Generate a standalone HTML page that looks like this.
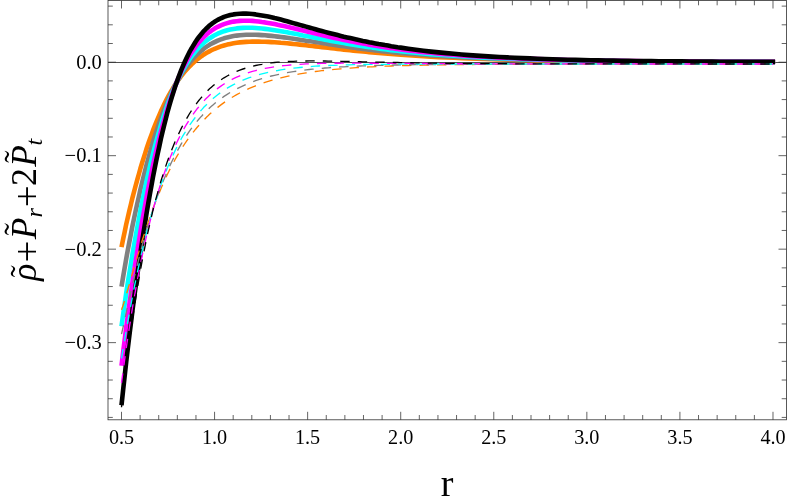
<!DOCTYPE html>
<html><head><meta charset="utf-8"><title>plot</title>
<style>
html,body{margin:0;padding:0;background:#fff;}
svg{display:block;will-change:transform;font-family:"Liberation Serif",serif;}
</style></head>
<body>
<svg width="789" height="504" viewBox="0 0 789 504">
<rect width="789" height="504" fill="#fff"/>
<g fill="none" stroke-linecap="butt" stroke-linejoin="round">
<path d="M108.0,62.5H786.5" stroke="#303030" stroke-width="0.85"/>
<path d="M121.5,247.1L123.1,239.2L124.7,231.7L126.2,224.4L127.8,217.4L129.4,210.6L131.0,204.0L132.5,197.6L134.1,191.5L135.7,185.5L137.3,179.7L138.9,174.0L140.4,168.5L142.0,163.2L143.6,158.1L145.2,153.1L146.7,148.3L148.3,143.6L149.9,139.0L151.5,134.7L153.0,130.4L154.6,126.3L156.2,122.4L157.8,118.5L159.4,114.8L160.9,111.3L162.5,107.9L164.1,104.6L165.7,101.4L167.2,98.3L168.8,95.4L170.4,92.5L172.0,89.8L173.6,87.2L175.1,84.7L176.7,82.3L178.3,80.0L179.9,77.8L181.4,75.7L183.0,73.7L184.6,71.8L186.2,70.0L187.8,68.2L189.3,66.6L190.9,65.0L192.5,63.4L194.1,62.0L195.6,60.6L197.2,59.3L198.8,58.1L200.4,56.9L202.0,55.8L203.5,54.7L205.1,53.7L206.7,52.8L208.3,51.9L209.8,51.1L211.4,50.3L213.0,49.5L214.6,48.8L217.7,47.6L220.9,46.4L224.0,45.5L227.2,44.6L230.3,43.9L233.5,43.3L236.7,42.8L239.8,42.4L243.0,42.1L246.1,41.9L249.3,41.7L252.4,41.6L255.6,41.6L258.7,41.6L261.9,41.7L265.0,41.8L268.2,41.9L271.4,42.1L274.5,42.3L277.7,42.5L280.8,42.8L284.0,43.0L287.1,43.3L290.3,43.6L293.4,44.0L296.6,44.3L299.8,44.6L302.9,45.0L306.1,45.3L309.2,45.7L312.4,46.0L315.5,46.4L318.7,46.8L321.8,47.1L325.0,47.5L328.1,47.8L331.3,48.2L334.5,48.5L337.6,48.9L340.8,49.2L343.9,49.6L347.1,49.9L350.2,50.2L353.4,50.6L356.5,50.9L359.7,51.2L362.9,51.5L366.0,51.8L369.2,52.1L372.3,52.4L375.5,52.7L378.6,53.0L381.8,53.2L384.9,53.5L388.1,53.8L391.2,54.0L394.4,54.3L397.6,54.5L400.7,54.7L408.3,55.3L415.9,55.8L423.5,56.2L431.1,56.7L438.7,57.1L446.3,57.5L453.9,57.8L461.5,58.1L469.1,58.5L476.7,58.7L484.3,59.0L491.9,59.2L499.5,59.5L507.1,59.7L514.7,59.9L522.3,60.0L529.9,60.2L537.5,60.4L545.1,60.5L552.7,60.6L560.3,60.8L567.9,60.9L575.5,61.0L583.1,61.1L590.6,61.2L598.2,61.2L605.8,61.3L613.4,61.4L621.0,61.4L628.6,61.5L636.2,61.6L643.8,61.6L651.4,61.6L659.0,61.7L666.6,61.7L674.2,61.8L681.8,61.8L689.4,61.8L697.0,61.9L704.6,61.9L712.2,61.9L719.8,61.9L727.4,62.0L735.0,62.0L742.6,62.0L750.2,62.0L757.8,62.0L765.4,62.0L773.0,62.0L775.1,62.0" stroke="#ff8000" stroke-width="4.6"/>
<path d="M121.5,286.6L123.1,277.0L124.7,267.7L126.2,258.8L127.8,250.1L129.4,241.8L131.0,233.6L132.5,225.8L134.1,218.1L135.7,210.7L137.3,203.5L138.9,196.4L140.4,189.6L142.0,183.0L143.6,176.6L145.2,170.4L146.7,164.3L148.3,158.5L149.9,152.8L151.5,147.3L153.0,142.0L154.6,136.9L156.2,132.0L157.8,127.2L159.4,122.6L160.9,118.2L162.5,113.9L164.1,109.8L165.7,105.8L167.2,102.0L168.8,98.4L170.4,94.9L172.0,91.5L173.6,88.3L175.1,85.2L176.7,82.3L178.3,79.5L179.9,76.8L181.4,74.2L183.0,71.8L184.6,69.4L186.2,67.2L187.8,65.1L189.3,63.0L190.9,61.1L192.5,59.3L194.1,57.5L195.6,55.9L197.2,54.3L198.8,52.9L200.4,51.5L202.0,50.2L203.5,48.9L205.1,47.7L206.7,46.6L208.3,45.6L209.8,44.6L211.4,43.7L213.0,42.9L214.6,42.1L217.7,40.6L220.9,39.4L224.0,38.3L227.2,37.4L230.3,36.7L233.5,36.1L236.7,35.6L239.8,35.3L243.0,35.0L246.1,34.8L249.3,34.7L252.4,34.7L255.6,34.8L258.7,34.9L261.9,35.1L265.0,35.3L268.2,35.6L271.4,35.9L274.5,36.2L277.7,36.6L280.8,37.0L284.0,37.4L287.1,37.8L290.3,38.3L293.4,38.7L296.6,39.2L299.8,39.7L302.9,40.2L306.1,40.7L309.2,41.1L312.4,41.6L315.5,42.1L318.7,42.6L321.8,43.1L325.0,43.6L328.1,44.1L331.3,44.5L334.5,45.0L337.6,45.4L340.8,45.9L343.9,46.3L347.1,46.8L350.2,47.2L353.4,47.6L356.5,48.1L359.7,48.5L362.9,48.9L366.0,49.2L369.2,49.6L372.3,50.0L375.5,50.4L378.6,50.7L381.8,51.1L384.9,51.4L388.1,51.7L391.2,52.0L394.4,52.4L397.6,52.7L400.7,53.0L408.3,53.6L415.9,54.3L423.5,54.8L431.1,55.4L438.7,55.9L446.3,56.4L453.9,56.8L461.5,57.2L469.1,57.6L476.7,58.0L484.3,58.3L491.9,58.6L499.5,58.9L507.1,59.1L514.7,59.4L522.3,59.6L529.9,59.8L537.5,60.0L545.1,60.1L552.7,60.3L560.3,60.4L567.9,60.6L575.5,60.7L583.1,60.8L590.6,60.9L598.2,61.0L605.8,61.1L613.4,61.2L621.0,61.3L628.6,61.3L636.2,61.4L643.8,61.5L651.4,61.5L659.0,61.6L666.6,61.6L674.2,61.7L681.8,61.7L689.4,61.7L697.0,61.8L704.6,61.8L712.2,61.8L719.8,61.9L727.4,61.9L735.0,61.9L742.6,61.9L750.2,62.0L757.8,62.0L765.4,62.0L773.0,62.0L775.1,62.0" stroke="#808080" stroke-width="4.6"/>
<path d="M121.5,326.2L123.1,314.8L124.7,303.8L126.2,293.1L127.8,282.9L129.4,272.9L131.0,263.3L132.5,253.9L134.1,244.8L135.7,235.9L137.3,227.3L138.9,218.9L140.4,210.7L142.0,202.8L143.6,195.1L145.2,187.6L146.7,180.4L148.3,173.4L149.9,166.6L151.5,160.0L153.0,153.7L154.6,147.5L156.2,141.6L157.8,135.9L159.4,130.4L160.9,125.1L162.5,119.9L164.1,115.0L165.7,110.3L167.2,105.8L168.8,101.4L170.4,97.2L172.0,93.2L173.6,89.4L175.1,85.8L176.7,82.3L178.3,78.9L179.9,75.7L181.4,72.7L183.0,69.8L184.6,67.0L186.2,64.4L187.8,61.9L189.3,59.5L190.9,57.2L192.5,55.1L194.1,53.1L195.6,51.2L197.2,49.4L198.8,47.7L200.4,46.0L202.0,44.5L203.5,43.1L205.1,41.8L206.7,40.5L208.3,39.3L209.8,38.2L211.4,37.2L213.0,36.2L214.6,35.3L217.7,33.7L220.9,32.4L224.0,31.2L227.2,30.2L230.3,29.5L233.5,28.9L236.7,28.4L239.8,28.1L243.0,27.9L246.1,27.8L249.3,27.8L252.4,27.8L255.6,28.0L258.7,28.2L261.9,28.5L265.0,28.9L268.2,29.3L271.4,29.7L274.5,30.2L277.7,30.7L280.8,31.2L284.0,31.8L287.1,32.3L290.3,32.9L293.4,33.5L296.6,34.1L299.8,34.7L302.9,35.4L306.1,36.0L309.2,36.6L312.4,37.2L315.5,37.8L318.7,38.5L321.8,39.1L325.0,39.7L328.1,40.3L331.3,40.9L334.5,41.4L337.6,42.0L340.8,42.6L343.9,43.1L347.1,43.7L350.2,44.2L353.4,44.7L356.5,45.2L359.7,45.7L362.9,46.2L366.0,46.7L369.2,47.1L372.3,47.6L375.5,48.0L378.6,48.5L381.8,48.9L384.9,49.3L388.1,49.7L391.2,50.1L394.4,50.5L397.6,50.8L400.7,51.2L408.3,52.0L415.9,52.8L423.5,53.5L431.1,54.1L438.7,54.7L446.3,55.3L453.9,55.8L461.5,56.3L469.1,56.8L476.7,57.2L484.3,57.6L491.9,57.9L499.5,58.2L507.1,58.6L514.7,58.8L522.3,59.1L529.9,59.3L537.5,59.6L545.1,59.8L552.7,59.9L560.3,60.1L567.9,60.3L575.5,60.4L583.1,60.6L590.6,60.7L598.2,60.8L605.8,60.9L613.4,61.0L621.0,61.1L628.6,61.2L636.2,61.3L643.8,61.3L651.4,61.4L659.0,61.5L666.6,61.5L674.2,61.6L681.8,61.6L689.4,61.7L697.0,61.7L704.6,61.7L712.2,61.8L719.8,61.8L727.4,61.8L735.0,61.9L742.6,61.9L750.2,61.9L757.8,61.9L765.4,61.9L773.0,62.0L775.1,62.0" stroke="#00ffff" stroke-width="4.6"/>
<path d="M121.5,365.7L123.1,352.5L124.7,339.8L126.2,327.5L127.8,315.6L129.4,304.1L131.0,292.9L132.5,282.0L134.1,271.4L135.7,261.1L137.3,251.1L138.9,241.3L140.4,231.8L142.0,222.6L143.6,213.6L145.2,204.9L146.7,196.5L148.3,188.3L149.9,180.4L151.5,172.7L153.0,165.3L154.6,158.1L156.2,151.2L157.8,144.6L159.4,138.1L160.9,131.9L162.5,126.0L164.1,120.3L165.7,114.8L167.2,109.5L168.8,104.4L170.4,99.6L172.0,94.9L173.6,90.5L175.1,86.3L176.7,82.2L178.3,78.3L179.9,74.6L181.4,71.1L183.0,67.8L184.6,64.6L186.2,61.6L187.8,58.7L189.3,56.0L190.9,53.4L192.5,50.9L194.1,48.6L195.6,46.4L197.2,44.4L198.8,42.4L200.4,40.6L202.0,38.9L203.5,37.3L205.1,35.8L206.7,34.3L208.3,33.0L209.8,31.8L211.4,30.6L213.0,29.6L214.6,28.6L217.7,26.8L220.9,25.3L224.0,24.1L227.2,23.1L230.3,22.2L233.5,21.6L236.7,21.2L239.8,20.9L243.0,20.7L246.1,20.7L249.3,20.8L252.4,20.9L255.6,21.2L258.7,21.5L261.9,22.0L265.0,22.4L268.2,22.9L271.4,23.5L274.5,24.1L277.7,24.8L280.8,25.4L284.0,26.1L287.1,26.8L290.3,27.6L293.4,28.3L296.6,29.0L299.8,29.8L302.9,30.6L306.1,31.3L309.2,32.1L312.4,32.8L315.5,33.6L318.7,34.3L321.8,35.0L325.0,35.8L328.1,36.5L331.3,37.2L334.5,37.9L337.6,38.6L340.8,39.2L343.9,39.9L347.1,40.5L350.2,41.2L353.4,41.8L356.5,42.4L359.7,43.0L362.9,43.5L366.0,44.1L369.2,44.7L372.3,45.2L375.5,45.7L378.6,46.2L381.8,46.7L384.9,47.2L388.1,47.7L391.2,48.1L394.4,48.6L397.6,49.0L400.7,49.4L408.3,50.4L415.9,51.2L423.5,52.1L431.1,52.8L438.7,53.6L446.3,54.2L453.9,54.8L461.5,55.4L469.1,55.9L476.7,56.4L484.3,56.8L491.9,57.3L499.5,57.6L507.1,58.0L514.7,58.3L522.3,58.6L529.9,58.9L537.5,59.1L545.1,59.4L552.7,59.6L560.3,59.8L567.9,60.0L575.5,60.2L583.1,60.3L590.6,60.5L598.2,60.6L605.8,60.7L613.4,60.8L621.0,60.9L628.6,61.0L636.2,61.1L643.8,61.2L651.4,61.3L659.0,61.3L666.6,61.4L674.2,61.5L681.8,61.5L689.4,61.6L697.0,61.6L704.6,61.7L712.2,61.7L719.8,61.7L727.4,61.8L735.0,61.8L742.6,61.8L750.2,61.9L757.8,61.9L765.4,61.9L773.0,61.9L775.1,61.9" stroke="#ff00ff" stroke-width="4.6"/>
<path d="M121.5,405.3L123.1,390.3L124.7,375.8L126.2,361.9L127.8,348.4L129.4,335.3L131.0,322.5L132.5,310.1L134.1,298.0L135.7,286.3L137.3,274.9L138.9,263.7L140.4,252.9L142.0,242.4L143.6,232.1L145.2,222.2L146.7,212.5L148.3,203.2L149.9,194.1L151.5,185.4L153.0,176.9L154.6,168.7L156.2,160.8L157.8,153.2L159.4,145.9L160.9,138.8L162.5,132.0L164.1,125.5L165.7,119.2L167.2,113.2L168.8,107.5L170.4,101.9L172.0,96.6L173.6,91.6L175.1,86.8L176.7,82.2L178.3,77.8L179.9,73.6L181.4,69.6L183.0,65.8L184.6,62.2L186.2,58.8L187.8,55.5L189.3,52.4L190.9,49.5L192.5,46.8L194.1,44.2L195.6,41.7L197.2,39.4L198.8,37.2L200.4,35.2L202.0,33.3L203.5,31.4L205.1,29.8L206.7,28.2L208.3,26.7L209.8,25.3L211.4,24.1L213.0,22.9L214.6,21.8L217.7,19.9L220.9,18.3L224.0,16.9L227.2,15.9L230.3,15.0L233.5,14.4L236.7,14.0L239.8,13.7L243.0,13.6L246.1,13.6L249.3,13.8L252.4,14.0L255.6,14.4L258.7,14.9L261.9,15.4L265.0,16.0L268.2,16.6L271.4,17.3L274.5,18.1L277.7,18.8L280.8,19.6L284.0,20.5L287.1,21.3L290.3,22.2L293.4,23.1L296.6,24.0L299.8,24.9L302.9,25.7L306.1,26.6L309.2,27.5L312.4,28.4L315.5,29.3L318.7,30.2L321.8,31.0L325.0,31.9L328.1,32.7L331.3,33.5L334.5,34.3L337.6,35.1L340.8,35.9L343.9,36.7L347.1,37.4L350.2,38.1L353.4,38.8L356.5,39.5L359.7,40.2L362.9,40.9L366.0,41.5L369.2,42.2L372.3,42.8L375.5,43.4L378.6,44.0L381.8,44.5L384.9,45.1L388.1,45.6L391.2,46.2L394.4,46.7L397.6,47.2L400.7,47.6L408.3,48.7L415.9,49.7L423.5,50.7L431.1,51.6L438.7,52.4L446.3,53.1L453.9,53.8L461.5,54.5L469.1,55.1L476.7,55.6L484.3,56.1L491.9,56.6L499.5,57.0L507.1,57.4L514.7,57.8L522.3,58.1L529.9,58.4L537.5,58.7L545.1,59.0L552.7,59.2L560.3,59.5L567.9,59.7L575.5,59.9L583.1,60.1L590.6,60.2L598.2,60.4L605.8,60.5L613.4,60.6L621.0,60.8L628.6,60.9L636.2,61.0L643.8,61.1L651.4,61.1L659.0,61.2L666.6,61.3L674.2,61.4L681.8,61.4L689.4,61.5L697.0,61.5L704.6,61.6L712.2,61.6L719.8,61.7L727.4,61.7L735.0,61.7L742.6,61.8L750.2,61.8L757.8,61.8L765.4,61.9L773.0,61.9L775.1,61.9" stroke="#000000" stroke-width="4.6"/>
<path d="M121.5,309.9L123.1,305.2L124.7,300.1L126.2,294.9L127.8,289.5L129.4,284.1L131.0,278.6L132.5,273.1L134.1,267.7L135.7,262.2L137.3,256.9L138.9,251.6L140.4,246.4L142.0,241.3L143.6,236.2L145.2,231.4L146.7,226.6L148.3,221.9L149.9,217.3L151.5,212.9L153.0,208.6L154.6,204.4L156.2,200.3L157.8,196.3L159.4,192.5L160.9,188.7L162.5,185.1L164.1,181.5L165.7,178.1L167.2,174.8L168.8,171.5L170.4,168.4L172.0,165.3L173.6,162.4L175.1,159.5L176.7,156.7L178.3,154.0L179.9,151.4L181.4,148.9L183.0,146.4L184.6,144.0L186.2,141.7L187.8,139.4L189.3,137.3L190.9,135.1L192.5,133.1L194.1,131.1L195.6,129.2L197.2,127.3L198.8,125.5L200.4,123.7L202.0,122.0L203.5,120.3L205.1,118.7L206.7,117.1L208.3,115.6L209.8,114.1L211.4,112.7L213.0,111.3L214.6,110.0L217.7,107.4L220.9,104.9L224.0,102.6L227.2,100.5L230.3,98.4L233.5,96.5L236.7,94.7L239.8,93.0L243.0,91.4L246.1,89.9L249.3,88.4L252.4,87.1L255.6,85.8L258.7,84.6L261.9,83.5L265.0,82.4L268.2,81.4L271.4,80.4L274.5,79.5L277.7,78.7L280.8,77.9L284.0,77.1L287.1,76.4L290.3,75.7L293.4,75.1L296.6,74.5L299.8,73.9L302.9,73.4L306.1,72.9L309.2,72.4L312.4,71.9L315.5,71.5L318.7,71.1L321.8,70.7L325.0,70.4L328.1,70.0L331.3,69.7L334.5,69.4L337.6,69.1L340.8,68.8L343.9,68.6L347.1,68.3L350.2,68.1L353.4,67.9L356.5,67.7L359.7,67.5L362.9,67.3L366.0,67.1L369.2,66.9L372.3,66.8L375.5,66.6L378.6,66.5L381.8,66.4L384.9,66.2L388.1,66.1L391.2,66.0L394.4,65.9L397.6,65.8L400.7,65.7L408.3,65.5L415.9,65.3L423.5,65.1L431.1,65.0L438.7,64.9L446.3,64.8L453.9,64.7L461.5,64.6L469.1,64.5L476.7,64.4L484.3,64.4L491.9,64.3L499.5,64.3L507.1,64.2L514.7,64.2L522.3,64.2L529.9,64.2L537.5,64.1L545.1,64.1L552.7,64.1L560.3,64.1L567.9,64.1L575.5,64.0L583.1,64.0L590.6,64.0L598.2,64.0L605.8,64.0L613.4,64.0L621.0,64.0L628.6,64.0L636.2,64.0L643.8,64.0L651.4,64.0L659.0,64.0L666.6,64.0L674.2,64.0L681.8,64.0L689.4,64.0L697.0,64.0L704.6,64.0L712.2,64.0L719.8,64.0L727.4,64.0L735.0,64.0L742.6,64.0L750.2,64.0L757.8,64.0L765.4,64.0L773.0,64.0" stroke="#ff8000" stroke-width="1.35" stroke-dasharray="9.4 8.1"/>
<path d="M121.5,334.2L123.1,327.1L124.7,319.9L126.2,312.7L127.8,305.5L129.4,298.5L131.0,291.5L132.5,284.6L134.1,277.9L135.7,271.3L137.3,264.8L138.9,258.5L140.4,252.3L142.0,246.4L143.6,240.5L145.2,234.9L146.7,229.4L148.3,224.1L149.9,218.9L151.5,213.9L153.0,209.0L154.6,204.3L156.2,199.7L157.8,195.3L159.4,191.0L160.9,186.8L162.5,182.8L164.1,178.9L165.7,175.2L167.2,171.5L168.8,168.0L170.4,164.6L172.0,161.3L173.6,158.1L175.1,155.0L176.7,152.0L178.3,149.2L179.9,146.4L181.4,143.7L183.0,141.1L184.6,138.5L186.2,136.1L187.8,133.7L189.3,131.4L190.9,129.2L192.5,127.1L194.1,125.0L195.6,123.0L197.2,121.1L198.8,119.2L200.4,117.4L202.0,115.7L203.5,114.0L205.1,112.3L206.7,110.8L208.3,109.2L209.8,107.7L211.4,106.3L213.0,104.9L214.6,103.6L217.7,101.0L220.9,98.7L224.0,96.4L227.2,94.4L230.3,92.4L233.5,90.6L236.7,88.9L239.8,87.3L243.0,85.8L246.1,84.4L249.3,83.1L252.4,81.9L255.6,80.7L258.7,79.7L261.9,78.7L265.0,77.7L268.2,76.9L271.4,76.0L274.5,75.3L277.7,74.6L280.8,73.9L284.0,73.3L287.1,72.7L290.3,72.1L293.4,71.6L296.6,71.2L299.8,70.7L302.9,70.3L306.1,69.9L309.2,69.5L312.4,69.2L315.5,68.9L318.7,68.6L321.8,68.3L325.0,68.0L328.1,67.8L331.3,67.5L334.5,67.3L337.6,67.1L340.8,66.9L343.9,66.8L347.1,66.6L350.2,66.4L353.4,66.3L356.5,66.1L359.7,66.0L362.9,65.9L366.0,65.8L369.2,65.7L372.3,65.6L375.5,65.5L378.6,65.4L381.8,65.3L384.9,65.2L388.1,65.2L391.2,65.1L394.4,65.0L397.6,65.0L400.7,64.9L408.3,64.8L415.9,64.7L423.5,64.6L431.1,64.5L438.7,64.5L446.3,64.4L453.9,64.3L461.5,64.3L469.1,64.3L476.7,64.2L484.3,64.2L491.9,64.2L499.5,64.1L507.1,64.1L514.7,64.1L522.3,64.1L529.9,64.1L537.5,64.1L545.1,64.0L552.7,64.0L560.3,64.0L567.9,64.0L575.5,64.0L583.1,64.0L590.6,64.0L598.2,64.0L605.8,64.0L613.4,64.0L621.0,64.0L628.6,64.0L636.2,64.0L643.8,64.0L651.4,64.0L659.0,64.0L666.6,64.0L674.2,64.0L681.8,64.0L689.4,64.0L697.0,64.0L704.6,64.0L712.2,64.0L719.8,64.0L727.4,64.0L735.0,64.0L742.6,64.0L750.2,64.0L757.8,64.0L765.4,64.0L773.0,64.0" stroke="#808080" stroke-width="1.35" stroke-dasharray="9.4 8.1"/>
<path d="M121.5,358.5L123.1,349.0L124.7,339.6L126.2,330.5L127.8,321.5L129.4,312.8L131.0,304.3L132.5,296.1L134.1,288.1L135.7,280.3L137.3,272.7L138.9,265.4L140.4,258.3L142.0,251.5L143.6,244.8L145.2,238.4L146.7,232.2L148.3,226.2L149.9,220.4L151.5,214.8L153.0,209.4L154.6,204.2L156.2,199.1L157.8,194.2L159.4,189.5L160.9,185.0L162.5,180.6L164.1,176.3L165.7,172.3L167.2,168.3L168.8,164.5L170.4,160.8L172.0,157.3L173.6,153.9L175.1,150.6L176.7,147.4L178.3,144.3L179.9,141.3L181.4,138.5L183.0,135.7L184.6,133.1L186.2,130.5L187.8,128.0L189.3,125.6L190.9,123.3L192.5,121.1L194.1,119.0L195.6,116.9L197.2,114.9L198.8,113.0L200.4,111.1L202.0,109.4L203.5,107.6L205.1,106.0L206.7,104.4L208.3,102.9L209.8,101.4L211.4,99.9L213.0,98.6L214.6,97.2L217.7,94.7L220.9,92.4L224.0,90.2L227.2,88.2L230.3,86.4L233.5,84.6L236.7,83.0L239.8,81.6L243.0,80.2L246.1,78.9L249.3,77.7L252.4,76.7L255.6,75.7L258.7,74.7L261.9,73.9L265.0,73.1L268.2,72.3L271.4,71.7L274.5,71.0L277.7,70.5L280.8,69.9L284.0,69.4L287.1,69.0L290.3,68.6L293.4,68.2L296.6,67.8L299.8,67.5L302.9,67.2L306.1,66.9L309.2,66.7L312.4,66.4L315.5,66.2L318.7,66.0L321.8,65.8L325.0,65.7L328.1,65.5L331.3,65.4L334.5,65.3L337.6,65.2L340.8,65.0L343.9,65.0L347.1,64.9L350.2,64.8L353.4,64.7L356.5,64.6L359.7,64.6L362.9,64.5L366.0,64.5L369.2,64.4L372.3,64.4L375.5,64.3L378.6,64.3L381.8,64.3L384.9,64.3L388.1,64.2L391.2,64.2L394.4,64.2L397.6,64.2L400.7,64.1L408.3,64.1L415.9,64.1L423.5,64.1L431.1,64.0L438.7,64.0L446.3,64.0L453.9,64.0L461.5,64.0L469.1,64.0L476.7,64.0L484.3,64.0L491.9,64.0L499.5,64.0L507.1,64.0L514.7,64.0L522.3,64.0L529.9,64.0L537.5,64.0L545.1,64.0L552.7,64.0L560.3,64.0L567.9,64.0L575.5,64.0L583.1,64.0L590.6,64.0L598.2,64.0L605.8,64.0L613.4,64.0L621.0,64.0L628.6,64.0L636.2,64.0L643.8,64.0L651.4,64.0L659.0,64.0L666.6,64.0L674.2,64.0L681.8,64.0L689.4,64.0L697.0,64.0L704.6,64.0L712.2,64.0L719.8,64.0L727.4,64.0L735.0,64.0L742.6,64.0L750.2,64.0L757.8,64.0L765.4,64.0L773.0,64.0" stroke="#00ffff" stroke-width="1.35" stroke-dasharray="9.4 8.1"/>
<path d="M121.5,382.8L123.1,370.9L124.7,359.4L126.2,348.3L127.8,337.5L129.4,327.2L131.0,317.2L132.5,307.5L134.1,298.3L135.7,289.3L137.3,280.7L138.9,272.3L140.4,264.3L142.0,256.6L143.6,249.1L145.2,241.9L146.7,235.0L148.3,228.4L149.9,221.9L151.5,215.7L153.0,209.8L154.6,204.0L156.2,198.5L157.8,193.2L159.4,188.0L160.9,183.1L162.5,178.3L164.1,173.8L165.7,169.3L167.2,165.1L168.8,161.0L170.4,157.0L172.0,153.2L173.6,149.6L175.1,146.1L176.7,142.7L178.3,139.4L179.9,136.3L181.4,133.3L183.0,130.4L184.6,127.6L186.2,124.9L187.8,122.3L189.3,119.8L190.9,117.4L192.5,115.1L194.1,112.9L195.6,110.8L197.2,108.7L198.8,106.8L200.4,104.9L202.0,103.1L203.5,101.3L205.1,99.6L206.7,98.0L208.3,96.5L209.8,95.0L211.4,93.6L213.0,92.2L214.6,90.9L217.7,88.4L220.9,86.1L224.0,84.0L227.2,82.1L230.3,80.3L233.5,78.7L236.7,77.2L239.8,75.8L243.0,74.6L246.1,73.4L249.3,72.4L252.4,71.4L255.6,70.6L258.7,69.8L261.9,69.1L265.0,68.4L268.2,67.8L271.4,67.3L274.5,66.8L277.7,66.3L280.8,65.9L284.0,65.6L287.1,65.3L290.3,65.0L293.4,64.7L296.6,64.5L299.8,64.3L302.9,64.1L306.1,63.9L309.2,63.8L312.4,63.7L315.5,63.6L318.7,63.5L321.8,63.4L325.0,63.3L328.1,63.3L331.3,63.2L334.5,63.2L337.6,63.2L340.8,63.2L343.9,63.1L347.1,63.1L350.2,63.1L353.4,63.1L356.5,63.1L359.7,63.1L362.9,63.2L366.0,63.2L369.2,63.2L372.3,63.2L375.5,63.2L378.6,63.2L381.8,63.2L384.9,63.3L388.1,63.3L391.2,63.3L394.4,63.3L397.6,63.4L400.7,63.4L408.3,63.4L415.9,63.5L423.5,63.5L431.1,63.6L438.7,63.6L446.3,63.7L453.9,63.7L461.5,63.7L469.1,63.7L476.7,63.8L484.3,63.8L491.9,63.8L499.5,63.8L507.1,63.9L514.7,63.9L522.3,63.9L529.9,63.9L537.5,63.9L545.1,63.9L552.7,63.9L560.3,63.9L567.9,63.9L575.5,63.9L583.1,63.9L590.6,63.9L598.2,63.9L605.8,63.9L613.4,63.9L621.0,63.9L628.6,63.9L636.2,63.9L643.8,64.0L651.4,64.0L659.0,64.0L666.6,64.0L674.2,64.0L681.8,64.0L689.4,64.0L697.0,64.0L704.6,64.0L712.2,64.0L719.8,64.0L727.4,64.0L735.0,64.0L742.6,64.0L750.2,64.0L757.8,64.0L765.4,64.0L773.0,64.0" stroke="#ff00ff" stroke-width="1.35" stroke-dasharray="9.4 8.1"/>
<path d="M121.5,407.2L123.1,392.8L124.7,379.1L126.2,366.1L127.8,353.5L129.4,341.5L131.0,330.0L132.5,319.0L134.1,308.5L135.7,298.3L137.3,288.6L138.9,279.3L140.4,270.3L142.0,261.7L143.6,253.4L145.2,245.5L146.7,237.8L148.3,230.5L149.9,223.5L151.5,216.7L153.0,210.2L154.6,203.9L156.2,197.9L157.8,192.1L159.4,186.6L160.9,181.2L162.5,176.1L164.1,171.2L165.7,166.4L167.2,161.9L168.8,157.5L170.4,153.3L172.0,149.2L173.6,145.3L175.1,141.6L176.7,138.0L178.3,134.6L179.9,131.3L181.4,128.1L183.0,125.0L184.6,122.1L186.2,119.3L187.8,116.6L189.3,114.0L190.9,111.5L192.5,109.1L194.1,106.8L195.6,104.7L197.2,102.6L198.8,100.5L200.4,98.6L202.0,96.8L203.5,95.0L205.1,93.3L206.7,91.7L208.3,90.1L209.8,88.6L211.4,87.2L213.0,85.8L214.6,84.5L217.7,82.1L220.9,79.9L224.0,77.8L227.2,76.0L230.3,74.3L233.5,72.8L236.7,71.4L239.8,70.1L243.0,69.0L246.1,68.0L249.3,67.1L252.4,66.2L255.6,65.5L258.7,64.8L261.9,64.3L265.0,63.7L268.2,63.3L271.4,62.9L274.5,62.5L277.7,62.2L280.8,62.0L284.0,61.7L287.1,61.5L290.3,61.4L293.4,61.3L296.6,61.2L299.8,61.1L302.9,61.0L306.1,61.0L309.2,60.9L312.4,60.9L315.5,60.9L318.7,61.0L321.8,61.0L325.0,61.0L328.1,61.1L331.3,61.1L334.5,61.2L337.6,61.2L340.8,61.3L343.9,61.3L347.1,61.4L350.2,61.5L353.4,61.6L356.5,61.6L359.7,61.7L362.9,61.8L366.0,61.8L369.2,61.9L372.3,62.0L375.5,62.1L378.6,62.1L381.8,62.2L384.9,62.3L388.1,62.3L391.2,62.4L394.4,62.5L397.6,62.5L400.7,62.6L408.3,62.7L415.9,62.9L423.5,63.0L431.1,63.1L438.7,63.2L446.3,63.3L453.9,63.4L461.5,63.4L469.1,63.5L476.7,63.6L484.3,63.6L491.9,63.6L499.5,63.7L507.1,63.7L514.7,63.8L522.3,63.8L529.9,63.8L537.5,63.8L545.1,63.8L552.7,63.9L560.3,63.9L567.9,63.9L575.5,63.9L583.1,63.9L590.6,63.9L598.2,63.9L605.8,63.9L613.4,63.9L621.0,63.9L628.6,63.9L636.2,63.9L643.8,63.9L651.4,63.9L659.0,63.9L666.6,63.9L674.2,63.9L681.8,63.9L689.4,63.9L697.0,63.9L704.6,64.0L712.2,64.0L719.8,64.0L727.4,64.0L735.0,64.0L742.6,64.0L750.2,64.0L757.8,64.0L765.4,64.0L773.0,64.0" stroke="#000000" stroke-width="1.35" stroke-dasharray="9.4 8.1"/>
</g>
<path d="M121.50,419.80v-8.00M121.50,0.50v8.00M140.11,419.80v-4.80M140.11,0.50v4.80M158.73,419.80v-4.80M158.73,0.50v4.80M177.34,419.80v-4.80M177.34,0.50v4.80M195.96,419.80v-4.80M195.96,0.50v4.80M214.57,419.80v-8.00M214.57,0.50v8.00M233.18,419.80v-4.80M233.18,0.50v4.80M251.80,419.80v-4.80M251.80,0.50v4.80M270.41,419.80v-4.80M270.41,0.50v4.80M289.03,419.80v-4.80M289.03,0.50v4.80M307.64,419.80v-8.00M307.64,0.50v8.00M326.25,419.80v-4.80M326.25,0.50v4.80M344.87,419.80v-4.80M344.87,0.50v4.80M363.48,419.80v-4.80M363.48,0.50v4.80M382.10,419.80v-4.80M382.10,0.50v4.80M400.71,419.80v-8.00M400.71,0.50v8.00M419.32,419.80v-4.80M419.32,0.50v4.80M437.94,419.80v-4.80M437.94,0.50v4.80M456.55,419.80v-4.80M456.55,0.50v4.80M475.17,419.80v-4.80M475.17,0.50v4.80M493.78,419.80v-8.00M493.78,0.50v8.00M512.39,419.80v-4.80M512.39,0.50v4.80M531.01,419.80v-4.80M531.01,0.50v4.80M549.62,419.80v-4.80M549.62,0.50v4.80M568.24,419.80v-4.80M568.24,0.50v4.80M586.85,419.80v-8.00M586.85,0.50v8.00M605.46,419.80v-4.80M605.46,0.50v4.80M624.08,419.80v-4.80M624.08,0.50v4.80M642.69,419.80v-4.80M642.69,0.50v4.80M661.31,419.80v-4.80M661.31,0.50v4.80M679.92,419.80v-8.00M679.92,0.50v8.00M698.53,419.80v-4.80M698.53,0.50v4.80M717.15,419.80v-4.80M717.15,0.50v4.80M735.76,419.80v-4.80M735.76,0.50v4.80M754.38,419.80v-4.80M754.38,0.50v4.80M772.99,419.80v-8.00M772.99,0.50v8.00M108.00,417.42h4.80M786.50,417.42h-4.80M108.00,398.73h4.80M786.50,398.73h-4.80M108.00,380.03h4.80M786.50,380.03h-4.80M108.00,361.34h4.80M786.50,361.34h-4.80M108.00,342.64h8.00M786.50,342.64h-8.00M108.00,323.94h4.80M786.50,323.94h-4.80M108.00,305.25h4.80M786.50,305.25h-4.80M108.00,286.55h4.80M786.50,286.55h-4.80M108.00,267.86h4.80M786.50,267.86h-4.80M108.00,249.16h8.00M786.50,249.16h-8.00M108.00,230.46h4.80M786.50,230.46h-4.80M108.00,211.77h4.80M786.50,211.77h-4.80M108.00,193.07h4.80M786.50,193.07h-4.80M108.00,174.38h4.80M786.50,174.38h-4.80M108.00,155.68h8.00M786.50,155.68h-8.00M108.00,136.98h4.80M786.50,136.98h-4.80M108.00,118.29h4.80M786.50,118.29h-4.80M108.00,99.59h4.80M786.50,99.59h-4.80M108.00,80.90h4.80M786.50,80.90h-4.80M108.00,62.20h8.00M786.50,62.20h-8.00M108.00,43.50h4.80M786.50,43.50h-4.80M108.00,24.81h4.80M786.50,24.81h-4.80M108.00,6.11h4.80M786.50,6.11h-4.80" stroke="#303030" stroke-width="0.75" fill="none"/>
<rect x="108.0" y="0.5" width="678.50" height="419.30" fill="none" stroke="#303030" stroke-width="0.8"/>
<g font-size="20.2px" fill="#000"><text x="121.5" y="444.3" text-anchor="middle">0.5</text><text x="214.6" y="444.3" text-anchor="middle">1.0</text><text x="307.6" y="444.3" text-anchor="middle">1.5</text><text x="400.7" y="444.3" text-anchor="middle">2.0</text><text x="493.8" y="444.3" text-anchor="middle">2.5</text><text x="586.8" y="444.3" text-anchor="middle">3.0</text><text x="679.9" y="444.3" text-anchor="middle">3.5</text><text x="773.0" y="444.3" text-anchor="middle">4.0</text><text x="101.8" y="68.6" text-anchor="end" font-size="20.5px">0.0</text><text x="101.8" y="162.1" text-anchor="end" font-size="20.5px">−0.1</text><text x="101.8" y="255.6" text-anchor="end" font-size="20.5px">−0.2</text><text x="101.8" y="349.0" text-anchor="end" font-size="20.5px">−0.3</text></g>
<text x="440.7" y="495.8" font-size="38px" fill="#000">r</text>
<g transform="translate(36,0) rotate(-90)" fill="#000"><text x="-280.80" y="0.00" font-size="35.5px" font-style="italic">ρ</text><text x="-262.40" y="3.90" font-size="38.7px">+</text><text x="-239.25" y="0.00" font-size="35.5px" font-style="italic">P</text><text x="-217.60" y="5.60" font-size="24px" font-style="italic">r</text><text x="-207.25" y="3.90" font-size="38.7px">+</text><text x="-185.90" y="0.00" font-size="36px">2</text><text x="-166.65" y="0.00" font-size="35.5px" font-style="italic">P</text><text x="-145.50" y="5.70" font-size="24px" font-style="italic">t</text><path transform="translate(-277.10,-20.80) scale(1,-1)" d="M0,0.3C0.6,3.0 2.0,4.4 3.6,4.4C5.4,4.4 6.6,2.1 8.3,2.1C9.5,2.1 10.5,2.9 11.2,4.4L11.7,4.2C11.0,1.4 9.6,0 8.0,0C6.2,0 5.0,2.3 3.3,2.3C2.1,2.3 1.1,1.5 0.45,0.1Z"/><path transform="translate(-235.00,-27.05) scale(1,-1)" d="M0,0.3C0.6,3.0 2.0,4.4 3.6,4.4C5.4,4.4 6.6,2.1 8.3,2.1C9.5,2.1 10.5,2.9 11.2,4.4L11.7,4.2C11.0,1.4 9.6,0 8.0,0C6.2,0 5.0,2.3 3.3,2.3C2.1,2.3 1.1,1.5 0.45,0.1Z"/><path transform="translate(-162.50,-26.90) scale(1,-1)" d="M0,0.3C0.6,3.0 2.0,4.4 3.6,4.4C5.4,4.4 6.6,2.1 8.3,2.1C9.5,2.1 10.5,2.9 11.2,4.4L11.7,4.2C11.0,1.4 9.6,0 8.0,0C6.2,0 5.0,2.3 3.3,2.3C2.1,2.3 1.1,1.5 0.45,0.1Z"/></g>
</svg>
</body></html>
